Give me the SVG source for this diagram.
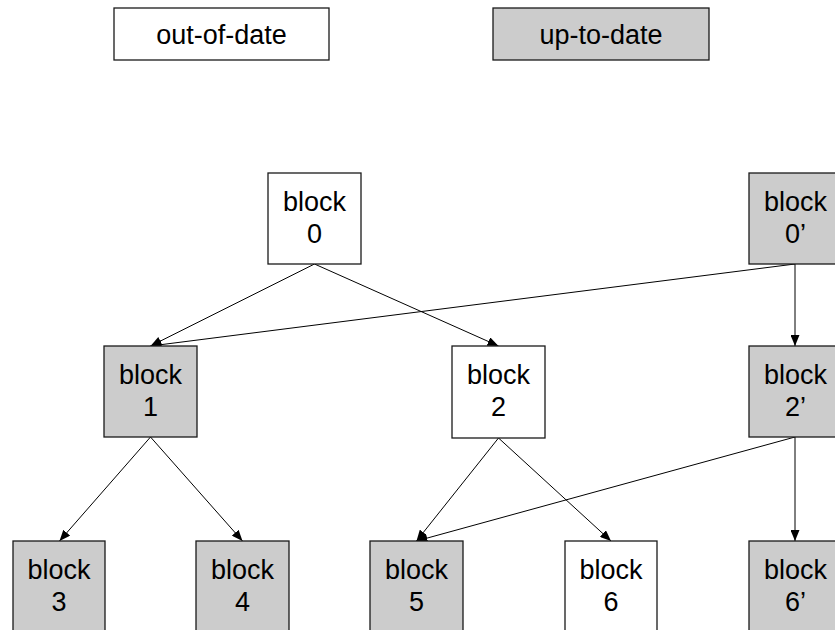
<svg xmlns="http://www.w3.org/2000/svg" width="835" height="630" viewBox="0 0 835 630">
<defs>
<marker id="ah" markerWidth="11" markerHeight="9" refX="11" refY="4.5" orient="auto" markerUnits="userSpaceOnUse">
<path d="M0,0 L11,4.5 L0,9 Z" fill="#000"/>
</marker>
<style>
rect{stroke:#1a1a1a;stroke-width:1.3}
.w{fill:#fff}
.g{fill:#cccccc}
text{font-family:"Liberation Sans",Arial,sans-serif;font-size:27px;fill:#000;text-anchor:middle}
.c line{stroke:#000;stroke-width:1;marker-end:url(#ah)}
</style>
</defs>
<rect width="835" height="630" fill="#fff" style="stroke:none"/>
<g id="legend-out">
<rect class="w" x="114" y="8" width="215" height="52"/>
<text x="221.5" y="44">out-of-date</text>
</g>
<g id="legend-up">
<rect class="g" x="493" y="8" width="216" height="52"/>
<text x="601" y="44">up-to-date</text>
</g>
<g class="c" id="connectors">
<line x1="314.5" y1="264" x2="150.5" y2="346"/>
<line x1="314.5" y1="264" x2="498.5" y2="346"/>
<line x1="795" y1="264" x2="150.5" y2="346"/>
<line x1="795" y1="264" x2="795" y2="346"/>
<line x1="150.5" y1="437" x2="59.5" y2="541"/>
<line x1="150.5" y1="437" x2="242.5" y2="541"/>
<line x1="498.5" y1="438" x2="416.5" y2="541"/>
<line x1="498.5" y1="438" x2="611" y2="541"/>
<line x1="795" y1="437" x2="416.5" y2="541"/>
<line x1="795" y1="437" x2="795" y2="541"/>
</g>
<g id="block0">
<rect class="w" x="268" y="173" width="93" height="91"/>
<text x="314.5" y="211">block</text>
<text x="314.5" y="243">0</text>
</g>
<g id="block0p">
<rect class="g" x="749" y="173" width="93" height="91"/>
<text x="795.5" y="211">block</text>
<text x="795.5" y="243">0’</text>
</g>
<g id="block1">
<rect class="g" x="104" y="346" width="93" height="91"/>
<text x="150.5" y="384">block</text>
<text x="150.5" y="416">1</text>
</g>
<g id="block2">
<rect class="w" x="452" y="346" width="93" height="92"/>
<text x="498.5" y="384">block</text>
<text x="498.5" y="416">2</text>
</g>
<g id="block2p">
<rect class="g" x="749" y="346" width="93" height="91"/>
<text x="795.5" y="384">block</text>
<text x="795.5" y="416">2’</text>
</g>
<g id="block3">
<rect class="g" x="13" y="541" width="92" height="100"/>
<text x="59" y="579">block</text>
<text x="59" y="611">3</text>
</g>
<g id="block4">
<rect class="g" x="196" y="541" width="93" height="100"/>
<text x="242.5" y="579">block</text>
<text x="242.5" y="611">4</text>
</g>
<g id="block5">
<rect class="g" x="370" y="541" width="93" height="100"/>
<text x="416.5" y="579">block</text>
<text x="416.5" y="611">5</text>
</g>
<g id="block6">
<rect class="w" x="565" y="541" width="92" height="100"/>
<text x="611" y="579">block</text>
<text x="611" y="611">6</text>
</g>
<g id="block6p">
<rect class="g" x="749" y="541" width="93" height="100"/>
<text x="795.5" y="579">block</text>
<text x="795.5" y="611">6’</text>
</g>
</svg>
